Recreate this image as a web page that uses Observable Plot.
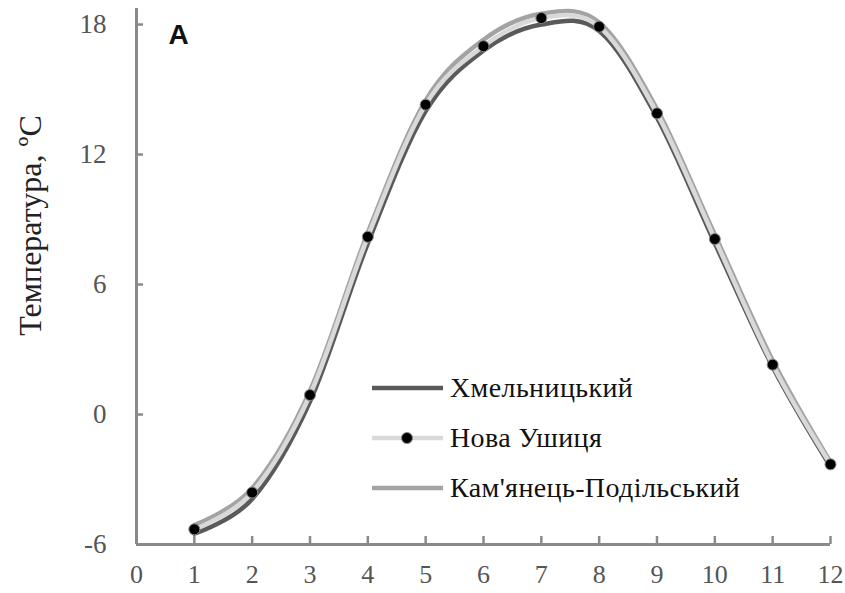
<!DOCTYPE html>
<html><head><meta charset="utf-8">
<script src="https://cdn.jsdelivr.net/npm/d3@7"></script>
<script src="https://cdn.jsdelivr.net/npm/@observablehq/plot@0.6"></script>
<style>
body{margin:0;background:#fff}
#wrap{position:relative;width:845px;height:593px;overflow:hidden}
#legend{position:absolute;left:371px;top:363px;font-family:'Liberation Serif',serif;font-size:28px;letter-spacing:0.4px;color:#111}
.row{display:flex;align-items:center;height:50px}
.row svg{margin-right:5px}
</style></head><body>
<div id="wrap"><div id="chart"></div><div id="legend"></div></div>
<script>
const months = [1,2,3,4,5,6,7,8,9,10,11,12];
const xTicks = [0,1,2,3,4,5,6,7,8,9,10,11,12];
const yTicks = [-6,0,6,12,18];
const khmelnytskyi = [-5.5,-3.9,0.6,7.9,14.0,16.8,18.0,17.7,13.7,7.9,2.2,-2.4];
const novaUshytsia = [-5.3,-3.6,0.9,8.2,14.3,17.0,18.3,17.9,13.9,8.1,2.3,-2.3];
const kamianets = [-5.1,-3.4,1.1,8.4,14.5,17.3,18.5,18.1,14.1,8.3,2.5,-2.2];
const seriesNames = ["Хмельницький","Нова Ушиця","Кам'янець-Подільський"];
const seriesColors = ["#5a5a5a","#d9d9d9","#a3a3a3"];
const yLabel = "Температура, ºC";
const panelLabel = "А";

const rows = (vals, s) => months.map((m,i) => ({month:m, value:vals[i], series:s}));
const dK = rows(khmelnytskyi, seriesNames[0]);
const dN = rows(novaUshytsia, seriesNames[1]);
const dC = rows(kamianets, seriesNames[2]);

const serif = "'Liberation Serif', serif";
const axisGray = "#8a8a8a";
const tickText = "#555";
const fmt = d => String(d);

const chart = Plot.plot({
  width: 845, height: 593,
  marginLeft: 136, marginRight: 15, marginTop: 8, marginBottom: 49,
  x: {domain:[0,12]},
  y: {domain:[-6,18.74]},
  style: {background:"#fff", fontFamily: serif},
  marks: [
    Plot.axisX(xTicks, {tickSize:0, tickPadding:20, fontSize:26, fontFamily:serif, fill:tickText, tickFormat:fmt, label:null}),
    Plot.axisX(xTicks, {text:null, tickSize:8, dy:-8, stroke:axisGray, strokeWidth:2.5, label:null}),
    Plot.axisY(yTicks, {tickSize:0, tickPadding:30, fontSize:27, fontFamily:serif, fill:tickText, tickFormat:fmt, label:null}),
    Plot.axisY(yTicks, {text:null, tickSize:7, dx:7, stroke:axisGray, strokeWidth:2.5, label:null}),
    Plot.ruleX([0], {stroke:axisGray, strokeWidth:3}),
    Plot.ruleY([-6], {stroke:axisGray, strokeWidth:3}),
    Plot.line(dC, {x:"month", y:"value", curve:"cardinal", stroke:seriesColors[2], strokeWidth:4.5}),
    Plot.line(dK, {x:"month", y:"value", curve:"cardinal", stroke:seriesColors[0], strokeWidth:4.5}),
    Plot.line(dN, {x:"month", y:"value", curve:"cardinal", stroke:seriesColors[1], strokeWidth:4.5}),
    Plot.dot(dN, {x:"month", y:"value", r:5.5, fill:"#000", stroke:"#888", strokeWidth:1}),
    Plot.text([yLabel], {frameAnchor:"left", textAnchor:"middle", rotate:-90, dx:-106, dy:-51, fontSize:32, fontFamily:serif, fill:"#222"}),
    Plot.text([panelLabel], {frameAnchor:"top-left", textAnchor:"start", lineAnchor:"top", dx:32, dy:16, fontSize:28, fontWeight:"bold", fontFamily:"'Liberation Sans', sans-serif", fill:"#111"})
  ]
});
document.getElementById("chart").appendChild(chart);

const legend = document.getElementById("legend");
seriesNames.forEach((name, i) => {
  const row = document.createElement("div");
  row.className = "row";
  const dot = i === 1 ? `<circle cx="36" cy="10" r="5.5" fill="#000" stroke="#888" stroke-width="1"/>` : "";
  row.innerHTML = `<svg width="74" height="20"><line x1="1" x2="72" y1="10" y2="10" stroke="${seriesColors[i]}" stroke-width="4.5"/>${dot}</svg><span>${name}</span>`;
  legend.appendChild(row);
});
</script>
</body></html>
